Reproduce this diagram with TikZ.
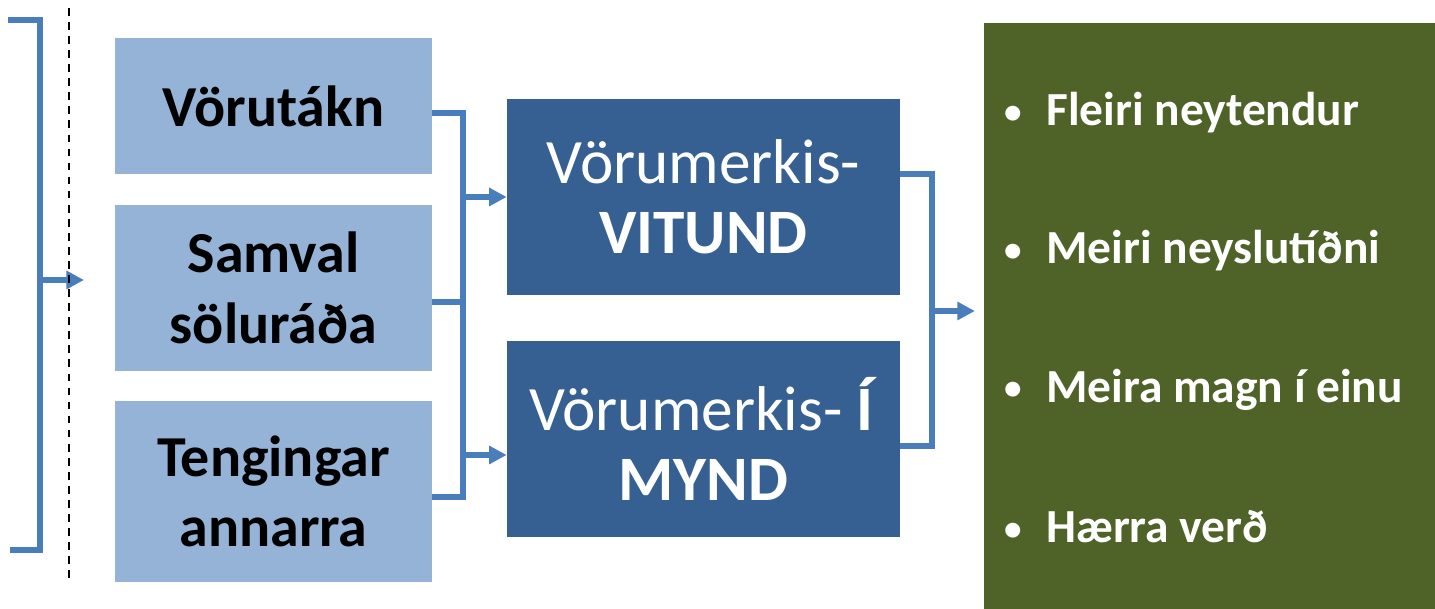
\documentclass[tikz,border=0pt]{standalone}
\usepackage{fontspec}
\setmainfont{Carlito}
\usetikzlibrary{arrows.meta}
\definecolor{lightblue}{HTML}{95B3D7}
\definecolor{darkblue}{HTML}{376092}
\definecolor{olive}{HTML}{4F6228}
\definecolor{linkblue}{HTML}{4A7EBB}
\newcommand{\smallbullet}{\raisebox{1.5pt}{\fontsize{20}{20}\selectfont\textbullet}\hspace{14pt}}
\tikzstyle{source}=[shape=rectangle,fill=lightblue,minimum width=63.4mm,align=center,font=\fontsize{33}{40}\selectfont\bfseries,text=black]
\tikzstyle{brand}=[shape=rectangle,fill=darkblue,minimum width=78.6mm,minimum height=39.2mm,align=center,font=\fontsize{36}{40}\selectfont,text=white]
\tikzstyle{effect}=[anchor=west,text=white,font=\fontsize{27}{30}\selectfont\bfseries]
\tikzstyle{link}=[draw=linkblue,line width=3pt]
\tikzstyle{arrow}=[link,-{Triangle[length=10pt,width=10pt]}]

\begin{document}
\begin{tikzpicture}[x=0.2mm,y=-0.2mm]
\useasboundingbox (0,0) rectangle (1435,609);
% bracket on the left
\coordinate (l1) at (8,20);
\coordinate (l2) at (40,20);
\coordinate (l3) at (40,550);
\coordinate (l4) at (10,550);
\coordinate (lm) at (40,280);
\coordinate (lt) at (84,280);
\draw[link] (l1) -- (l2) -- (l3) -- (l4);
\draw[arrow] (lm) -- (lt);
\coordinate (dt) at (69,8);
\coordinate (db) at (69,580);
\draw[line width=1.1pt,dash pattern=on 4.4pt off 3.6pt] (dt) -- (db);
% sources
\node[source,minimum height=27.2mm] (s1) at (273.5,106) {V\"orut\'akn};
\node[source,minimum height=33.2mm] (s2) at (273.5,288) {Samval\\s\"olur\'a\dh a};
\node[source,minimum height=36.2mm] (s3) at (273.5,491.5) {Tengingar\\annarra};
% brand
\node[brand] (b1) at (703.5,197) {V\"orumerkis-\\\textbf{VITUND}};
\node[brand] (b2) at (703.5,439) {V\"orumerkis- \textbf{\'I}\\\textbf{MYND}};
% outcome
\node[shape=rectangle,fill=olive,minimum width=90.2mm,minimum height=117.2mm] (g) at (1209.5,316) {};
\node[effect] (e1) at (998,113) {\smallbullet Fleiri neytendur};
\node[effect] (e2) at (998,251) {\smallbullet Meiri neyslut\'i\dh ni};
\node[effect] (e3) at (998,390) {\smallbullet Meira magn \'i einu};
\node[effect] (e4) at (998,527) {\smallbullet H\ae rra ver\dh};
% links
\coordinate (ta) at (463,113);
\coordinate (tm) at (463,302);
\coordinate (tb) at (463,497);
\coordinate (tn) at (463,455);
\draw[link] (s1.east |- ta) -- (ta) -- (tb) -- (s3.east |- tb);
\draw[link] (s2.east |- tm) -- (tm);
\draw[arrow] (b1.west -| ta) -- (b1.west);
\draw[arrow] (tn) -- (b2.west |- tn);
\coordinate (ra) at (932,174);
\coordinate (rb) at (932,446);
\coordinate (rm) at (932,311);
\draw[link] (b1.east |- ra) -- (ra) -- (rb) -- (b2.east |- rb);
\draw[arrow,shorten >=5pt] (rm) -- (g.west |- rm);
\end{tikzpicture}
\end{document}
